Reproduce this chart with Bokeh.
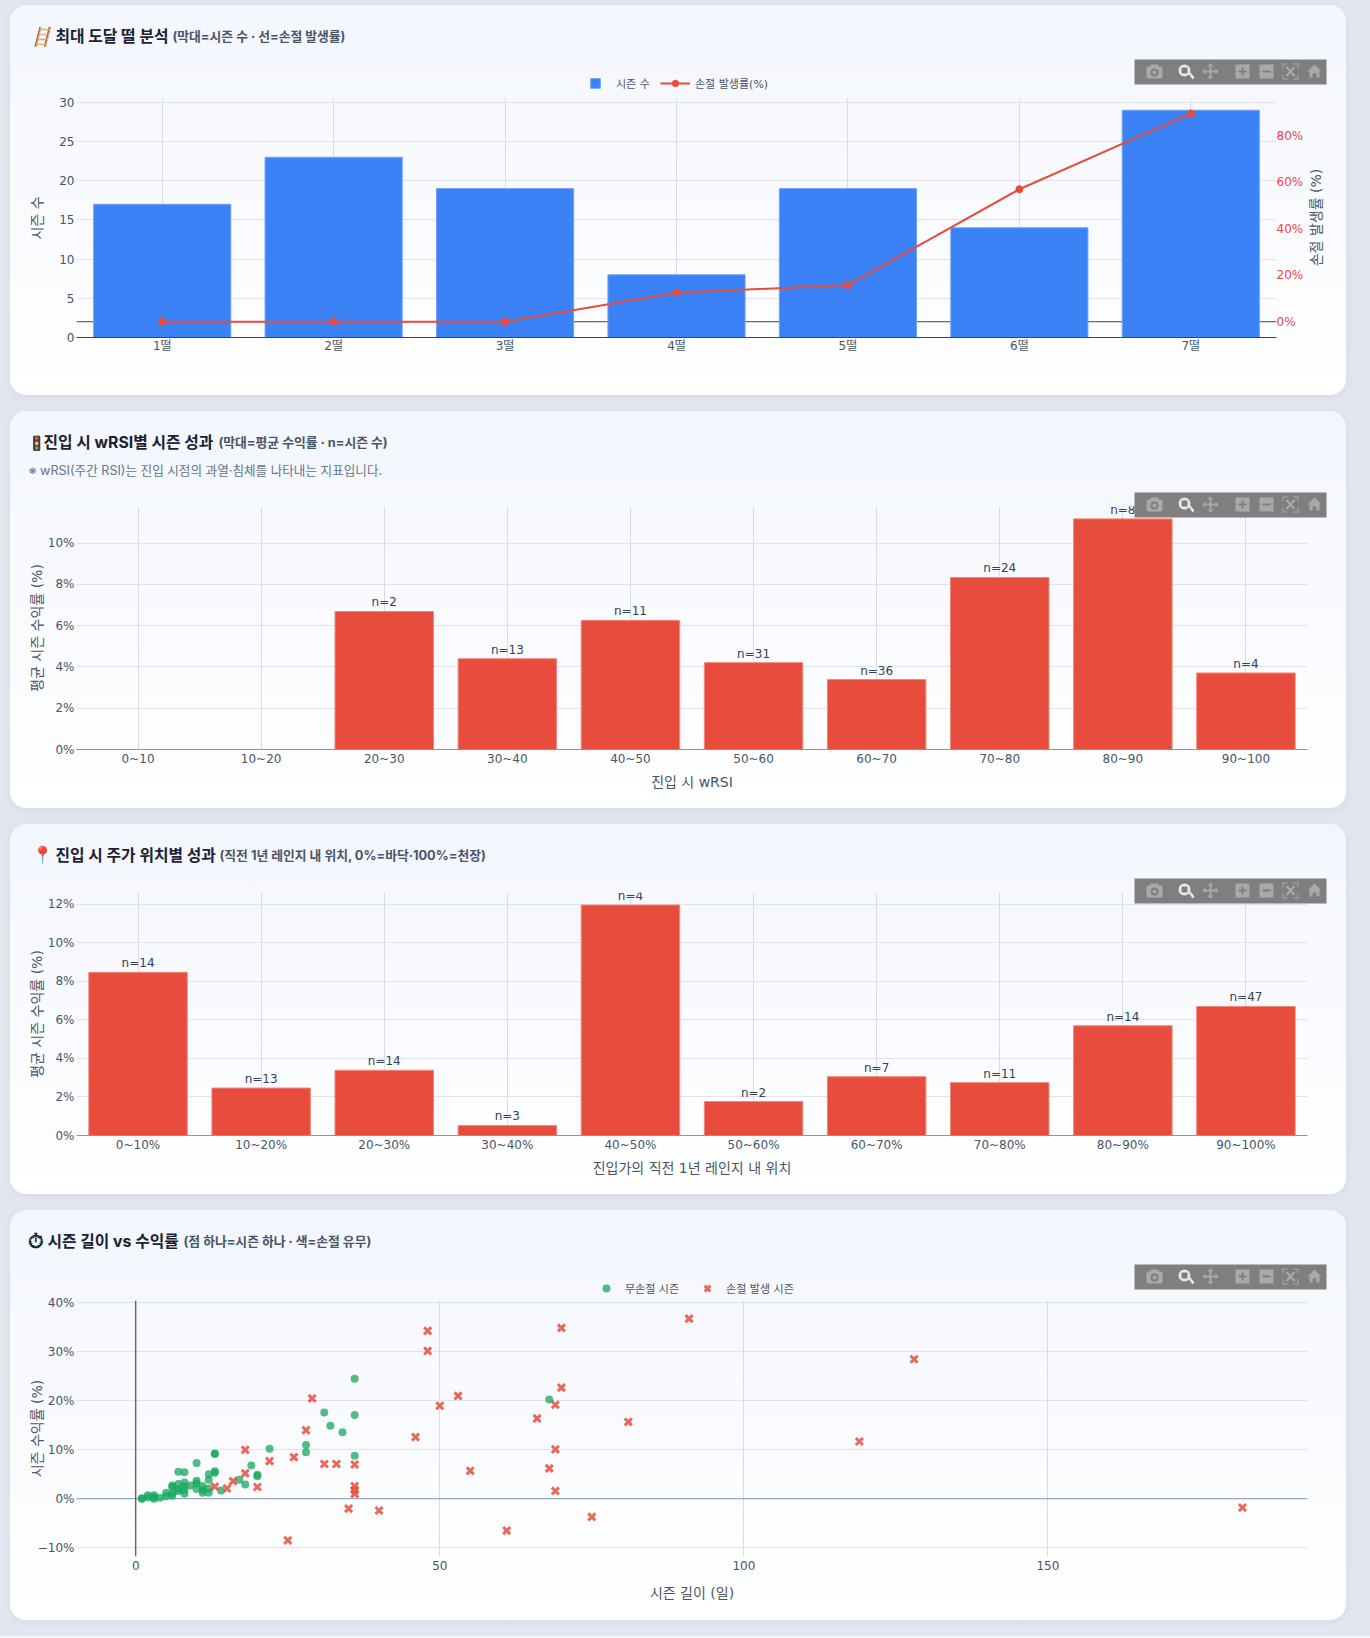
from math import pi
from bokeh.embed import file_html
from bokeh.resources import INLINE
from bokeh.plotting import figure
from bokeh.layouts import column
from bokeh.models import (FactorRange, Range1d, LinearAxis, FixedTicker, Span, Label, Legend,
                          LegendItem, BoxAnnotation, PolyAnnotation, ColumnDataSource)
from bokeh.core.properties import value

# ---------- data ----------
floor_cats = ["1떨", "2떨", "3떨", "4떨", "5떨", "6떨", "7떨"]
floor_counts = [17, 23, 19, 8, 19, 14, 29]
floor_stop_rate = [0, 0, 0, 12.5, 15.8, 57.1, 89.7]

wrsi_cats = ["0~10", "10~20", "20~30", "30~40", "40~50", "50~60", "60~70", "70~80", "80~90", "90~100"]
wrsi_returns = [0, 0, 6.69, 4.40, 6.26, 4.21, 3.39, 8.34, 11.18, 3.71]
wrsi_labels = ["", "", "n=2", "n=13", "n=11", "n=31", "n=36", "n=24", "n=8", "n=4"]

pos_cats = ["0~10%", "10~20%", "20~30%", "30~40%", "40~50%", "50~60%", "60~70%", "70~80%", "80~90%", "90~100%"]
pos_returns = [8.46, 2.46, 3.38, 0.52, 11.95, 1.76, 3.05, 2.74, 5.69, 6.69]
pos_labels = ["n=14", "n=13", "n=14", "n=3", "n=4", "n=2", "n=7", "n=11", "n=14", "n=47"]

clean_days = [1, 1, 2, 2, 3, 3, 3, 4, 5, 5, 6, 6, 6, 6, 7, 7, 7, 7, 8, 8, 8, 8, 8, 9, 10, 10, 10, 10,
              11, 11, 11, 12, 12, 12, 12, 13, 13, 13, 13, 14, 17, 18, 19, 20, 20, 22, 28, 28, 31, 32, 34,
              36, 36, 36, 68]
clean_ret = [0, 0.1, 0.7, 0.3, 0.7, 0.3, 0, 0.2, 1.2, 0.5, 2.7, 2.4, 1.1, 0.6, 5.5, 3.0, 2.0, 1.6,
             5.4, 3.3, 2.5, 1.8, 1.0, 2.7, 7.3, 3.7, 3.1, 2.0, 2.6, 1.8, 1.2, 5.0, 3.9, 2.1, 1.2,
             9.2, 9.2, 5.6, 5.3, 1.7, 3.9, 2.9, 6.8, 4.9, 4.6, 10.2, 11.0, 9.5, 17.6, 14.9, 13.6,
             24.5, 17.1, 8.8, 20.3]
stop_days = [13, 15, 16, 18, 18, 20, 22, 25, 26, 28, 29, 31, 33, 35, 36, 36, 36, 36, 40, 46, 48, 48, 50,
             53, 55, 61, 66, 68, 69, 69, 69, 70, 70, 75, 81, 91, 119, 128, 182]
stop_ret = [2.5, 2.1, 3.6, 10.0, 5.2, 2.4, 7.7, -8.5, 8.5, 14.0, 20.5, 7.1, 7.1, -2.0, 7.0, 2.6, 1.8, 1.0,
            -2.4, 12.6, 34.3, 30.2, 19.0, 21.0, 5.7, -6.5, 16.4, 6.2, 19.2, 10.1, 1.6, 34.9, 22.7, -3.7,
            15.7, 36.8, 11.7, 28.5, -1.8]

# ---------- style ----------
TICK = "DejaVu Sans, Noto Sans CJK KR"
HEAD = "Inter, Noto Sans CJK KR"
INK = "#475569"
DARK = "#1a2233"
SUB = "#475569"
RED = "#e74c3c"
BLUE = "#3b82f6"
GREEN = "#16a85c"
CARD_W = 1336
CARD_BG = "linear-gradient(180deg, #f3f6fd 0%, #ffffff 100%)"
BOX_C = "#7f7f80"
ICON = "#a9a9aa"
LENS = "#e8e8e8"


def base_fig(h, top, bottom, right, x_range, y_range, margin_top, y_standoff, x_tick_standoff=-4):
    p = figure(width=CARD_W, height=h, x_range=x_range, y_range=y_range,
               output_backend="svg", toolbar_location=None, frame_align=False,
               min_border_left=66, min_border_right=right, min_border_top=top, min_border_bottom=bottom,
               margin=(margin_top, 0, 0, 10),
               styles={"border-radius": "16px", "background": CARD_BG,
                       "box-shadow": "0 2px 8px rgba(100,116,139,0.10)"})
    p.border_fill_color = None
    p.background_fill_color = None
    p.outline_line_color = None
    p.xgrid.grid_line_color = "#d8dbe2"
    p.ygrid.grid_line_color = "#dfe3ea"
    for ax in (p.xaxis[0], p.yaxis[0]):
        style_axis(ax)
    p.xaxis[0].major_label_standoff = x_tick_standoff
    p.yaxis[0].major_label_standoff = -4
    p.yaxis[0].axis_label_standoff = y_standoff
    return p


def style_axis(ax):
    ax.major_tick_line_color = None
    ax.minor_tick_line_color = None
    ax.axis_line_color = None
    ax.major_label_text_font = TICK
    ax.major_label_text_font_size = "12px"
    ax.major_label_text_color = INK
    ax.axis_label_text_font = TICK
    ax.axis_label_text_font_size = "14px"
    ax.axis_label_text_font_style = "normal"
    ax.axis_label_text_color = INK
    ax.major_label_standoff = 3


def ticks(ax, vals, labels):
    ax.ticker = FixedTicker(ticks=vals)
    ax.major_label_overrides = dict(zip(vals, labels))


# ---------- card 1 ----------
p1 = base_fig(390, 93, 58, 70, FactorRange(factors=floor_cats), Range1d(0, 30.5), 5, 11, -5)
ticks(p1.yaxis[0], [0, 5, 10, 15, 20, 25, 30], ["0", "5", "10", "15", "20", "25", "30"])
p1.yaxis[0].axis_label = "시즌 수"
p1.xaxis[0].axis_line_color = "#444444"
p1.extra_y_ranges = {"rate": Range1d(-6.8, 96.2)}
r_ax = LinearAxis(y_range_name="rate")
style_axis(r_ax)
ticks(r_ax, [0, 20, 40, 60, 80], ["0%", "20%", "40%", "60%", "80%"])
r_ax.major_label_text_color = "#ef4444"
r_ax.major_label_standoff = -6
p1.add_layout(r_ax, "right")
p1.add_layout(Span(location=0, dimension="width", y_range_name="rate", line_color="#444444",
                   line_width=1, level="underlay"))
p1.vbar(x=floor_cats, top=floor_counts, width=0.8, fill_color=BLUE, line_color="#6ea0f8", line_width=1)
p1.line(x=floor_cats, y=floor_stop_rate, y_range_name="rate", line_color=RED, line_width=2)
p1.scatter(x=floor_cats, y=floor_stop_rate, y_range_name="rate", size=7, fill_color=RED, line_color=RED)


# ---------- cards 2 / 3 ----------
def bar_card(h, top, bottom, cats, vals, labels, ymax, yt, xtitle, margin_top, y_standoff):
    p = base_fig(h, top, bottom, 39, FactorRange(factors=cats), Range1d(0, ymax), margin_top, y_standoff)
    ticks(p.yaxis[0], yt, [f"{v}%" for v in yt])
    p.yaxis[0].axis_label = "평균 시즌 수익률 (%)"
    p.xaxis[0].axis_label = xtitle
    p.xaxis[0].axis_line_color = "#8b95a7"
    src = ColumnDataSource(dict(x=cats, top=vals, label=labels))
    p.vbar(x="x", top="top", width=0.8, source=src, fill_color=RED, line_color="#f0877a", line_width=1)
    p.text(x="x", y="top", text="label", source=src, text_align="center", text_baseline="bottom", y_offset=-2,
           text_font=value(TICK), text_font_size="12px", text_color="#334155")
    return p


p2 = bar_card(397, 95, 59, wrsi_cats, wrsi_returns, wrsi_labels, 11.78, [0, 2, 4, 6, 8, 10], "진입 시 wRSI", 16, 0)
p3 = bar_card(370, 68, 59, pos_cats, pos_returns, pos_labels, 12.6, [0, 2, 4, 6, 8, 10, 12],
              "진입가의 직전 1년 레인지 내 위치", 16, 0)

# ---------- card 4 ----------
p4 = base_fig(410, 90, 64, 39, Range1d(-9.75, 192.7), Range1d(-11.8, 40.5), 16, -10, -2)
ticks(p4.xaxis[0], [0, 50, 100, 150], ["0", "50", "100", "150"])
ticks(p4.yaxis[0], [-10, 0, 10, 20, 30, 40], ["−10%", "0%", "10%", "20%", "30%", "40%"])
p4.xaxis[0].axis_label = "시즌 길이 (일)"
p4.xaxis[0].axis_label_standoff = 12
p4.yaxis[0].axis_label = "시즌 수익률 (%)"
p4.add_layout(Span(location=0, dimension="width", line_color="#8a9bb5", line_width=1, level="underlay"))
p4.add_layout(Span(location=0, dimension="height", line_color="#333333", line_width=1, level="underlay"))
p4.scatter(x=clean_days, y=clean_ret, size=8, fill_color=GREEN, fill_alpha=0.75, line_color=None)
p4.scatter(x=stop_days, y=stop_ret, marker="x", size=10, line_color=RED, line_width=3, line_alpha=0.85)

# ---------- transparent top layer: card headings, legends and the chart tool strip ----------
top = figure(width=1370, height=1638, x_range=Range1d(0, 1370), y_range=Range1d(1638, 0),
             x_axis_type=None, y_axis_type=None, output_backend="svg", toolbar_location=None, frame_align=False,
             min_border=0, min_border_left=0, min_border_right=0, min_border_top=0, min_border_bottom=0,
             margin=(-1620, 0, 0, 0))
top.border_fill_color = None
top.background_fill_color = None
top.outline_line_color = None
top.grid.visible = False
top.extra_x_ranges = {"off": Range1d(1e6, 2e6)}
top.extra_y_ranges = {"off": Range1d(1e6, 2e6)}


def head(items):
    for txt, x, y, size, style, color, font in items:
        top.add_layout(Label(x=x, y=y, text=txt, text_font=font, text_font_size=size, text_font_style=style,
                             text_color=color, text_baseline="middle"))


def box(l, t, r, b, color, radius=0):
    top.add_layout(BoxAnnotation(left=l, right=r, top=t, bottom=b, fill_color=color, fill_alpha=1,
                                 line_color=None, border_radius=radius))


def poly(pts, color):
    top.add_layout(PolyAnnotation(xs=[a for a, _ in pts], ys=[b for _, b in pts],
                                  fill_color=color, fill_alpha=1, line_color=None))


def modebar(T):
    L = 1134
    box(L, T, L + 192, T + 25, BOX_C)
    # camera
    box(L + 12, T + 7, L + 28, T + 19, ICON, 2)
    box(L + 16, T + 5, L + 24, T + 8, ICON, 1)
    box(L + 16, T + 9, L + 24, T + 17, BOX_C, 4)
    box(L + 18, T + 11, L + 22, T + 15, ICON, 2)
    # magnifier
    box(L + 44, T + 5, L + 56, T + 17, LENS, 6)
    box(L + 47, T + 8, L + 53, T + 14, BOX_C, 1)
    poly([(L + 54, T + 14), (L + 56, T + 13), (L + 60, T + 18), (L + 58, T + 20)], LENS)
    # pan
    cx, cy = L + 76, T + 12
    box(cx - 7, cy - 1, cx + 7, cy + 1, ICON)
    box(cx - 1, cy - 7, cx + 1, cy + 7, ICON)
    poly([(cx - 8, cy), (cx - 5, cy - 3), (cx - 5, cy + 3)], ICON)
    poly([(cx + 8, cy), (cx + 5, cy - 3), (cx + 5, cy + 3)], ICON)
    poly([(cx, cy - 8), (cx - 3, cy - 5), (cx + 3, cy - 5)], ICON)
    poly([(cx, cy + 8), (cx - 3, cy + 5), (cx + 3, cy + 5)], ICON)
    # plus
    box(L + 101, T + 5, L + 115, T + 19, ICON)
    box(L + 104, T + 11, L + 112, T + 13, BOX_C)
    box(L + 107, T + 8, L + 109, T + 16, BOX_C)
    # minus
    box(L + 125, T + 5, L + 139, T + 19, ICON)
    box(L + 128, T + 11, L + 136, T + 13, BOX_C)
    # autoscale
    a, b, c, d = L + 148, T + 4, L + 164, T + 20
    for x0, sx in ((a, 1), (c, -1)):
        for y0, sy in ((b, 1), (d, -1)):
            poly([(x0, y0), (x0 + 5 * sx, y0), (x0 + 5 * sx, y0 + sy), (x0 + sx, y0 + sy),
                  (x0 + sx, y0 + 5 * sy), (x0, y0 + 5 * sy)], ICON)
    poly([(a + 3, b + 4), (a + 5, b + 3), (c - 3, d - 4), (c - 5, d - 3)], ICON)
    poly([(c - 3, b + 4), (c - 5, b + 3), (a + 3, d - 4), (a + 5, d - 3)], ICON)
    # home
    poly([(L + 173, T + 12), (L + 180, T + 5), (L + 187, T + 12), (L + 185, T + 12), (L + 185, T + 18),
          (L + 182, T + 18), (L + 182, T + 14), (L + 178, T + 14), (L + 178, T + 18), (L + 175, T + 18),
          (L + 175, T + 12)], ICON)


head([("🪜", 29, 35.5, "18px", "bold italic", "#7c4a32", HEAD),
      ("최대 도달 떨 분석", 55, 35.5, "15.8px", "bold", DARK, HEAD),
      ("(막대=시즌 수 · 선=손절 발생률)", 172, 35.5, "12.8px", "bold", SUB, HEAD),
      ("🚦", 27, 441.5, "14px", "normal", DARK, HEAD),
      ("진입 시 wRSI별 시즌 성과", 43, 441.5, "15.8px", "bold", DARK, HEAD),
      ("(막대=평균 수익률 · n=시즌 수)", 218, 441.5, "12.8px", "bold", SUB, HEAD),
      ("※ wRSI(주간 RSI)는 진입 시점의 과열·침체를 나타내는 지표입니다.", 28, 470, "12.6px", "normal", "#64748b", HEAD),
      ("📍", 31, 854.5, "17px", "normal", "#e11d48", HEAD),
      ("진입 시 주가 위치별 성과", 55, 854.5, "15.8px", "bold", DARK, HEAD),
      ("(직전 1년 레인지 내 위치, 0%=바닥·100%=천장)", 219, 854.5, "12.8px", "bold", SUB, HEAD),
      ("⏱", 27, 1240, "20px", "bold", DARK, "DejaVu Sans"),
      ("시즌 길이 vs 수익률", 47, 1240.5, "15.8px", "bold", DARK, HEAD),
      ("(점 하나=시즌 하나 · 색=손절 유무)", 183, 1240.5, "12.8px", "bold", SUB, HEAD)])
top.add_layout(Label(x=1315, y=217, text="손절 발생률 (%)", angle=pi / 2, text_align="center", text_baseline="middle",
                     text_font=TICK, text_font_size="14px", text_color=INK))
for y_top in (59, 492, 878, 1264):
    modebar(y_top)

# legends: swatch renderers of this layer sit on ranges outside its frame, the marks themselves live in the cards
OFF = dict(x_range_name="off", y_range_name="off")
lg_bar = top.vbar(x=floor_counts[:1], top=floor_counts[:1], width=0.8, fill_color=BLUE, line_color="#6ea0f8", **OFF)
lg_line = top.line(x=floor_counts[:2], y=floor_stop_rate[:2], line_color=RED, line_width=2, **OFF)
lg_dot = top.scatter(x=floor_counts[:1], y=floor_stop_rate[:1], size=7, fill_color=RED, line_color=RED, **OFF)
lg_green = top.scatter(x=clean_days[:1], y=clean_ret[:1], size=8, fill_color=GREEN, fill_alpha=0.75, line_color=None, **OFF)
lg_x = top.scatter(x=stop_days[:1], y=stop_ret[:1], marker="x", size=9, line_color=RED, line_width=3, line_alpha=0.85, **OFF)


def legend(items, x, bottom_y, gw, gh, standoff, spacing=0):
    top.add_layout(Legend(items=items, orientation="horizontal", location=(x, 1638 - bottom_y), glyph_width=gw,
                          glyph_height=gh, padding=0, margin=0, spacing=spacing, label_standoff=standoff,
                          label_text_font=TICK, label_text_font_size="11px", label_text_color=INK,
                          background_fill_alpha=0, border_line_color=None), "center")


legend([LegendItem(label="시즌 수", renderers=[lg_bar])], 589, 91, 12, 12, 15)
legend([LegendItem(label="손절 발생률(%)", renderers=[lg_line, lg_dot])], 660, 91, 30, 16, 5)
legend([LegendItem(label="무손절 시즌", renderers=[lg_green]),
        LegendItem(label="손절 발생 시즌", renderers=[lg_x])], 596, 1298, 20, 20, 9, 18)

page = column(p1, p2, p3, p4, top, width=1370, height=1638, spacing=0,
              styles={"background": "linear-gradient(180deg, #e2e6ef 0, #e2e6ef 1636px, #f6f8fd 1636px)"})

open("out.html", "w").write(file_html(page, INLINE))
